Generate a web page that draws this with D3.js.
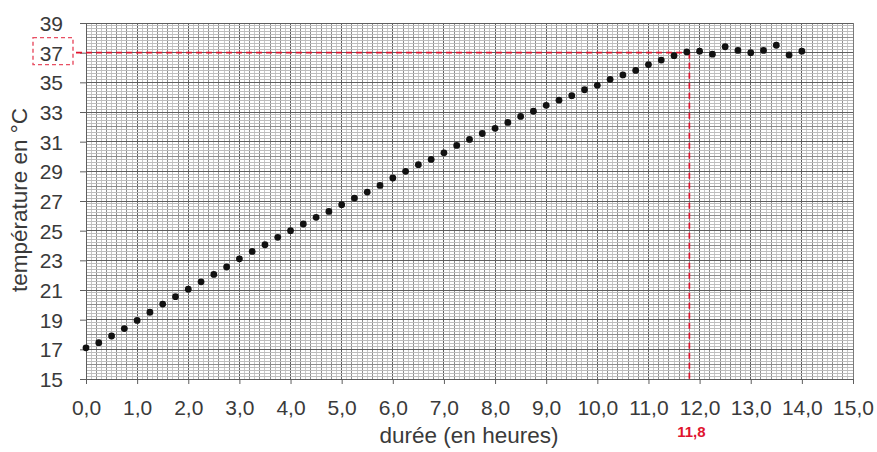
<!DOCTYPE html>
<html><head><meta charset="utf-8">
<script src="https://cdn.jsdelivr.net/npm/d3@7"></script>
<style>body{margin:0;background:#fff}svg{display:block}</style>
</head><body><svg id="c" width="877" height="452"></svg>
<script>
const hours = [0,0.25,0.5,0.75,1,1.25,1.5,1.75,2,2.25,2.5,2.75,3,3.25,3.5,3.75,4,4.25,4.5,4.75,5,5.25,5.5,5.75,6,6.25,6.5,6.75,7,7.25,7.5,7.75,8,8.25,8.5,8.75,9,9.25,9.5,9.75,10,10.25,10.5,10.75,11,11.25,11.5,11.75,12,12.25,12.5,12.75,13,13.25,13.5,13.75,14];
const temps = [17.1,17.45,17.9,18.4,18.95,19.5,20.05,20.55,21.05,21.55,22.05,22.55,23.1,23.6,24.05,24.55,25.0,25.45,25.9,26.3,26.75,27.2,27.6,28.05,28.55,29.0,29.45,29.8,30.25,30.75,31.15,31.55,31.9,32.3,32.7,33.05,33.45,33.8,34.1,34.5,34.8,35.2,35.5,35.8,36.2,36.5,36.8,37.05,37.1,36.9,37.4,37.15,37.0,37.15,37.5,36.85,37.1];
const xTicks = [0,1,2,3,4,5,6,7,8,9,10,11,12,13,14,15];
const yTicks = [15,17,19,21,23,25,27,29,31,33,35,37,39];
const markX = 11.8, markY = 37;
const xTitle = "durée (en heures)";
const yTitle = "température en °C";

const svg = d3.select("#c");
const x = d3.scaleLinear().domain([0,15]).range([86,853]);
const y = d3.scaleLinear().domain([15,39]).range([379,23]);
const red = "#e0142f";
const font = "'Liberation Sans', Arial, sans-serif";
const txt = "#3a3a3a";

const g = svg.append("g");
// vertical grid (0.1 h)
const vMinor = d3.range(0,150).map(i=>i/10);
g.selectAll(".vm").data(vMinor).join("line")
  .attr("x1",d=>x(d)).attr("x2",d=>x(d)).attr("y1",y(15)).attr("y2",y(39))
  .attr("stroke", (d,i)=> i%10===0 ? "#5e5e5e" : (i%2===0 ? "#8e8e8e" : "#c8c8c8"))
  .attr("stroke-width",1).attr("shape-rendering","crispEdges");
// horizontal grid (0.2 °C)
const hMinor = d3.range(0,121).map(i=>15+i*0.2);
g.selectAll(".hm").data(hMinor).join("line")
  .attr("y1",d=>y(d)).attr("y2",d=>y(d)).attr("x1",x(0)).attr("x2",x(15))
  .attr("stroke",(d,i)=> i%10===0 ? "#5e5e5e" : (i%5===0 ? "#8e8e8e" : "#bdbdbd"))
  .attr("stroke-width",1).attr("shape-rendering","crispEdges");
g.append("line").attr("x1",x(15)).attr("x2",x(15)).attr("y1",y(15)).attr("y2",y(39))
  .attr("stroke","#7a7a7a").attr("shape-rendering","crispEdges");

// axes
const xAxis = d3.axisBottom(x).tickValues(xTicks).tickSize(5).tickPadding(17)
  .tickFormat(d=>d3.format(".1f")(d).replace(".",","));
const xa = svg.append("g").attr("transform",`translate(0,${y(15)})`).call(xAxis);
xa.select(".domain").attr("stroke","#5e5e5e");
xa.selectAll(".tick line").attr("stroke","#5e5e5e");
xa.selectAll("text").attr("font-family",font).attr("font-size",21).attr("fill",txt).attr("dy",null).attr("y",36);

const yAxis = d3.axisLeft(y).tickValues(yTicks).tickSize(6).tickPadding(17);
const ya = svg.append("g").attr("transform",`translate(${x(0)},0)`).call(yAxis);
ya.select(".domain").attr("stroke","#5e5e5e");
ya.selectAll(".tick line").attr("stroke","#5e5e5e");
ya.selectAll("text").attr("font-family",font).attr("font-size",21).attr("fill",txt).attr("dy","0.36em");

// titles
svg.append("text").attr("x",469).attr("y",443).attr("text-anchor","middle")
  .attr("font-family",font).attr("font-size",22.5).attr("fill",txt).text(xTitle);
svg.append("text").attr("transform","translate(27,200) rotate(-90)").attr("text-anchor","middle")
  .attr("font-family",font).attr("font-size",22.5).attr("fill",txt).text(yTitle);

// red markers
svg.append("line").attr("x1",76).attr("x2",x(markX)).attr("y1",y(markY)).attr("y2",y(markY))
  .attr("stroke",red).attr("stroke-width",1.7).attr("stroke-dasharray","6,4");
svg.append("line").attr("x1",x(markX)).attr("x2",x(markX)).attr("y1",y(markY)).attr("y2",y(15)+3)
  .attr("stroke",red).attr("stroke-width",1.7).attr("stroke-dasharray","6,4");
svg.append("rect").attr("x",33).attr("y",y(markY)-15).attr("width",40).attr("height",27)
  .attr("fill","none").attr("stroke",red).attr("stroke-width",1.4).attr("stroke-dasharray","4,3").attr("opacity",0.75);
svg.append("text").attr("x",x(markX)+2).attr("y",437).attr("text-anchor","middle")
  .attr("font-family",font).attr("font-size",15).attr("font-weight","bold").attr("fill",red)
  .text(d3.format(".1f")(markX).replace(".",","));

// points
svg.append("g").selectAll("circle").data(hours.map((h,i)=>[h,temps[i]])).join("circle")
  .attr("cx",d=>x(d[0])).attr("cy",d=>y(d[1])).attr("r",3.4).attr("fill","#111");
</script></body></html>
